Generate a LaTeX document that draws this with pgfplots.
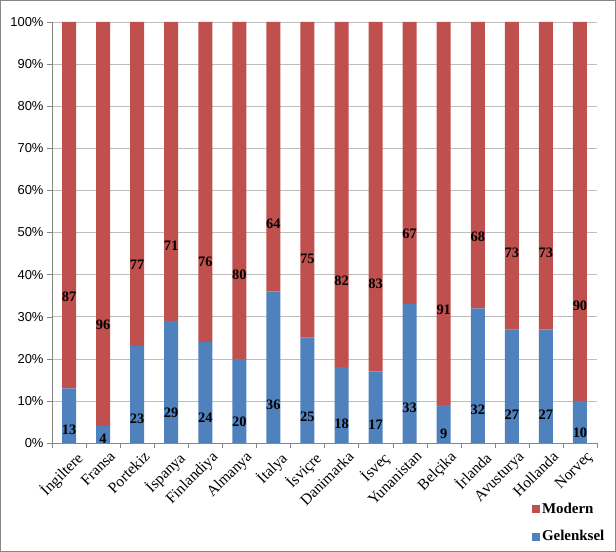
\documentclass[border=0pt]{standalone}
\usepackage{fontspec}
\setmainfont{Liberation Serif}
\setsansfont{Liberation Sans}
\usepackage{pgfplots}
\pgfplotsset{compat=1.18}
\usepackage{pgfplotstable}

\definecolor{modern}{RGB}{192,80,77}
\definecolor{gelenksel}{RGB}{79,129,189}
\definecolor{axisgray}{RGB}{134,134,134}
\definecolor{gridgray}{RGB}{190,190,190}

% share of traditional (g) and modern (m) per country, in percent
\pgfplotstableread{
x  g   m
0  13  87
1  4   96
2  23  77
3  29  71
4  24  76
5  20  80
6  36  64
7  25  75
8  18  82
9  17  83
10 33  67
11 9   91
12 32  68
13 27  73
14 27  73
15 10  90
}\shares

\begin{document}
\begin{tikzpicture}
\useasboundingbox (0,0) rectangle (616bp,552bp);
\draw[axisgray, line width=0.8bp] (0.5bp,0.5bp) rectangle (615.5bp,551.5bp);
\begin{axis}[
  at={(52bp,109bp)}, anchor=south west,
  scale only axis, width=545bp, height=421bp,
  ybar stacked, bar width=14bp,
  xmin=-0.5, xmax=15.5, ymin=0, ymax=100,
  axis x line*=bottom, axis y line*=left,
  axis line style={axisgray},
  xtick={0,...,15},
  xticklabels={İngiltere,Fransa,Portekiz,İspanya,Finlandiya,Almanya,İtalya,İsviçre,Danimarka,İsveç,Yunanistan,Belçika,İrlanda,Avusturya,Hollanda,Norveç},
  major x tick style={draw=none},
  minor xtick={-0.5,0.5,...,15.5},
  minor tick length=5bp, major tick length=5bp,
  tick align=outside,
  tick style={axisgray},
  ytick={0,10,...,100},
  yticklabels={0\%,10\%,20\%,30\%,40\%,50\%,60\%,70\%,80\%,90\%,100\%},
  yticklabel style={font=\sffamily\fontsize{13}{15}\selectfont},
  xticklabel style={rotate=45, anchor=north east, font=\fontsize{15.5}{17}\selectfont, xshift=6bp, yshift=-2bp},
  ymajorgrids, major grid style={gridgray},
  nodes near coords={\pgfmathprintnumber[assume math mode=true]{\val}},
  % the shift below is taken up twice by the stacked bars, so it is half of the half-segment
  every node near coord/.append style={anchor=center, font=\fontsize{14.5}{16}\selectfont\bfseries, text=black, yshift={-\val*1.0525bp}},
  legend style={at={(0.875,-0.132)}, anchor=north west, draw=none, fill=none,
    font=\fontsize{15}{17}\selectfont\bfseries, row sep=12bp},
  legend cell align=left,
  reverse legend,
]
\addplot[fill=gelenksel, draw=none,
  visualization depends on={\thisrow{g} \as \val},
  legend image code/.code={\fill[gelenksel] (0bp,-4bp) rectangle (8bp,4bp);}]
  table[x=x, y=g] {\shares};
\addlegendentry{Gelenksel}
\addplot[fill=modern, draw=none,
  visualization depends on={\thisrow{m} \as \val},
  legend image code/.code={\fill[modern] (0bp,-4bp) rectangle (8bp,4bp);}]
  table[x=x, y=m] {\shares};
\addlegendentry{Modern}
\end{axis}
\end{tikzpicture}
\end{document}
